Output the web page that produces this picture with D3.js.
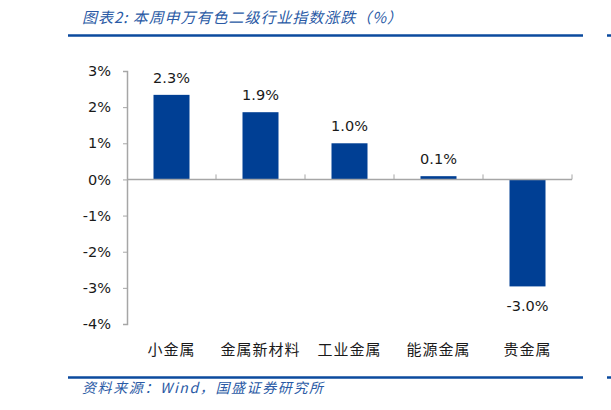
<!DOCTYPE html>
<html>
<head>
<meta charset="utf-8">
<script src="https://cdn.jsdelivr.net/npm/d3@7"></script>
<style>
  body { margin: 0; background: #fff; }
  svg { display: block; }
</style>
</head>
<body>
<div id="chart"></div>
<script>
// data
var categories = ["小金属", "金属新材料", "工业金属", "能源金属", "贵金属"];
var changes = [2.34, 1.86, 1.0, 0.09, -2.96];
var yTicks = [3, 2, 1, 0, -1, -2, -3, -4];

var W = 611, H = 410;
var svg = d3.select("#chart").append("svg")
    .attr("width", W)
    .attr("height", H);

var blue = "#0b4a9e";
var textBlue = "#2a5aa5";

// title + rules
svg.append("text")
  .attr("x", 82)
  .attr("y", 23)
  .attr("fill", textBlue)
  .attr("font-family", "'Noto Sans CJK SC', sans-serif")
  .attr("font-style", "italic")
  .attr("font-size", 15)
  .attr("textLength", 320)
  .attr("lengthAdjust", "spacing")
  .text("图表2:  本周申万有色二级行业指数涨跌（%）");

function rule(yy) {
  svg.append("line").attr("x1", 68).attr("x2", 583).attr("y1", yy).attr("y2", yy)
    .attr("stroke", blue).attr("stroke-width", 2.5);
  svg.append("line").attr("x1", 607).attr("x2", 611).attr("y1", yy).attr("y2", yy)
    .attr("stroke", blue).attr("stroke-width", 2.5);
}
rule(35.5);
rule(377.5);

svg.append("text")
  .attr("x", 82)
  .attr("y", 393)
  .attr("fill", textBlue)
  .attr("font-family", "'Noto Sans CJK SC', sans-serif")
  .attr("font-style", "italic")
  .attr("font-size", 14)
  .attr("textLength", 241)
  .attr("lengthAdjust", "spacing")
  .text("资料来源：Wind，国盛证券研究所");

// plot area
var plotLeft = 127, plotRight = 572, plotTop = 71, plotBottom = 324;

var x = d3.scaleBand()
  .domain(categories)
  .range([plotLeft, plotRight])
  .paddingInner(0)
  .paddingOuter(0);

var y = d3.scaleLinear()
  .domain([-4, 3])
  .range([plotBottom, plotTop]);

var barW = 36;
var grey = "#a6a6a6";
var ink = "#1a1a1a";

// y axis
var yAxis = svg.append("g")
  .attr("transform", "translate(" + plotLeft + ",0)")
  .call(d3.axisLeft(y).tickValues(yTicks).tickSize(4).tickPadding(12)
    .tickFormat(function(d) { return d + "%"; }));
yAxis.select(".domain").attr("stroke", grey).attr("stroke-width", 1.5);
yAxis.selectAll(".tick line").attr("stroke", grey);
yAxis.selectAll("text")
  .attr("font-family", "'DejaVu Sans', sans-serif")
  .attr("font-size", 14.5)
  .attr("fill", ink);

// bars
svg.selectAll("rect.bar")
  .data(changes)
  .enter()
  .append("rect")
    .attr("class", "bar")
    .attr("x", function(d, i) { return x(categories[i]) + x.bandwidth() / 2 - barW / 2; })
    .attr("y", function(d) { return y(Math.max(0, d)); })
    .attr("width", barW)
    .attr("height", function(d) { return Math.abs(y(d) - y(0)); })
    .attr("fill", "#003f94");

// zero line with category ticks
svg.append("line")
  .attr("x1", plotLeft).attr("x2", plotRight)
  .attr("y1", y(0)).attr("y2", y(0))
  .attr("stroke", grey).attr("stroke-width", 1.5);

var bounds = categories.map(function(c) { return x(c); }).concat([plotRight]);
svg.selectAll("line.ctick")
  .data(bounds.slice(1))
  .enter()
  .append("line")
    .attr("class", "ctick")
    .attr("x1", function(d) { return d; })
    .attr("x2", function(d) { return d; })
    .attr("y1", y(0))
    .attr("y2", y(0) - 5)
    .attr("stroke", grey);

// value labels
svg.selectAll("text.val")
  .data(changes)
  .enter()
  .append("text")
    .attr("class", "val")
    .attr("x", function(d, i) { return x(categories[i]) + x.bandwidth() / 2; })
    .attr("y", function(d) { return d >= 0 ? y(d) - 12 : y(d) + 25; })
    .attr("text-anchor", "middle")
    .attr("font-family", "'DejaVu Sans', sans-serif")
    .attr("font-size", 14.5)
    .attr("fill", ink)
    .text(function(d) { return d.toFixed(1) + "%"; });

// category labels
svg.selectAll("text.cat")
  .data(categories)
  .enter()
  .append("text")
    .attr("class", "cat")
    .attr("x", function(d) { return x(d) + x.bandwidth() / 2; })
    .attr("y", 355)
    .attr("text-anchor", "middle")
    .attr("font-family", "'Noto Sans CJK SC', serif")
    .attr("font-size", 15)
    .attr("letter-spacing", 1)
    .attr("fill", ink)
    .text(function(d) { return d; });
</script>
</body>
</html>
